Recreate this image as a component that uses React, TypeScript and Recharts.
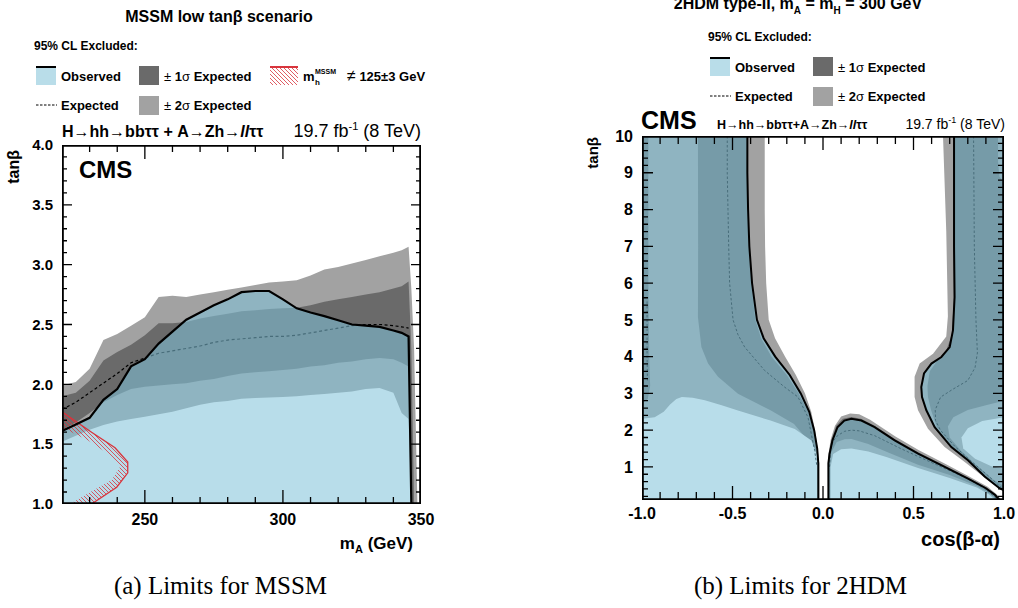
import React from 'react';
import { ComposedChart, Scatter, XAxis, YAxis } from 'recharts';

type Pt = [number, number];

const SANS = '"Liberation Sans", Arial, Helvetica, sans-serif';
const SERIF = '"Liberation Serif", "Times New Roman", serif';

const LIGHT_GRAY = '#a2a2a2';
const DARK_GRAY = '#6a6a6a';
const OBS_FILL = 'rgba(128,194,218,0.56)';
const LEGEND_BLUE = '#b9dde9';
const HATCH_RED = '#d8343c';

// (a) MSSM low tanb: contour heights read on a common mA grid (GeV)
const MA = [220, 225, 230, 235, 240, 245, 250, 255, 260, 265, 270, 275, 280, 285, 290, 295, 300, 305, 310, 315, 320, 325, 330, 335, 340, 343, 345.5, 346.5, 347.5, 348.7];
const MSSM_PLUS2 = [1.99, 2.02, 2.13, 2.37, 2.42, 2.49, 2.56, 2.73, 2.74, 2.73, 2.75, 2.77, 2.79, 2.81, 2.83, 2.85, 2.86, 2.87, 2.91, 2.96, 2.98, 3.01, 3.04, 3.07, 3.1, 3.12, 3.15, 2.8, 2.3, 1.0];
const MSSM_PLUS1 = [1.9, 1.93, 2.03, 2.2, 2.27, 2.33, 2.41, 2.51, 2.51, 2.52, 2.55, 2.57, 2.59, 2.61, 2.62, 2.63, 2.635, 2.64, 2.66, 2.69, 2.71, 2.73, 2.75, 2.77, 2.8, 2.82, 2.86, 2.3, 1.0, null];
const MSSM_EXP = [1.79, 1.85, 1.93, 2.01, 2.09, 2.18, 2.22, 2.26, 2.28, 2.3, 2.32, 2.35, 2.37, 2.38, 2.39, 2.4, 2.4, 2.41, 2.43, 2.45, 2.47, 2.49, 2.5, 2.5, 2.49, 2.48, 2.47, null, null, null];
const MSSM_MINUS1 = [1.62, 1.68, 1.76, 1.85, 1.91, 1.96, 1.98, 1.99, 2.0, 2.01, 2.03, 2.045, 2.07, 2.09, 2.1, 2.11, 2.12, 2.13, 2.15, 2.16, 2.18, 2.19, 2.21, 2.22, 2.21, 2.18, 2.15, 1.0, null, null];
const MSSM_MINUS2 = [1.52, 1.57, 1.62, 1.66, 1.69, 1.71, 1.73, 1.75, 1.77, 1.8, 1.83, 1.85, 1.86, 1.88, 1.885, 1.89, 1.895, 1.9, 1.91, 1.92, 1.93, 1.94, 1.96, 1.97, 1.93, 1.76, 1.71, 1.0, null, null];
const MSSM_OBS = [1.61, 1.665, 1.72, 1.87, 1.96, 2.15, 2.21, 2.34, 2.44, 2.54, 2.6, 2.66, 2.71, 2.77, 2.78, 2.78, 2.71, 2.635, 2.6, 2.57, 2.535, 2.5, 2.49, 2.48, 2.45, 2.43, 2.4, 1.0, null, null];
// m_h != 125 +- 3 GeV band (outer edge first)
const MSSM_MH_EDGE: Pt[] = [[220, 1.77], [230.7, 1.6], [239.2, 1.47], [243.8, 1.35], [243.8, 1.26], [239.8, 1.14], [230.7, 1.0]];
const MSSM_MH_INNER: Pt[] = [[222.9, 1.0], [229.5, 1.09], [238, 1.2], [241, 1.31], [238, 1.4], [229.5, 1.53], [220, 1.64]];

const MSSM_X_MAJOR = [250, 300, 350];
const MSSM_Y_MAJOR = [1, 1.5, 2, 2.5, 3, 3.5, 4];

// (b) 2HDM type-II: contours as (cos(b-a), tanb) points
const TH_L_OBS: Pt[] = [[-0.418, 10], [-0.418, 9], [-0.414, 8], [-0.407, 7], [-0.392, 6], [-0.365, 5], [-0.328, 4.5], [-0.264, 4], [-0.184, 3.5], [-0.123, 3], [-0.076, 2.5], [-0.049, 2], [-0.032, 1.5], [-0.026, 1.1], [-0.026, 0.1]];
const TH_L_PLUS2: Pt[] = [[-0.322, 10], [-0.322, 8], [-0.32, 7], [-0.314, 6], [-0.3, 5], [-0.265, 4.5], [-0.21, 4], [-0.15, 3.5], [-0.1, 3], [-0.065, 2.5], [-0.044, 2], [-0.03, 1.5], [-0.021, 1.1], [-0.02, 0.1]];
const TH_L_PLUS1: Pt[] = [[-0.422, 10], [-0.42, 9], [-0.417, 8], [-0.41, 7], [-0.397, 6], [-0.374, 5], [-0.342, 4.5], [-0.285, 4], [-0.2, 3.5], [-0.135, 3], [-0.083, 2.5], [-0.053, 2], [-0.036, 1.5], [-0.029, 1.1], [-0.028, 0.1]];
const TH_L_MINUS1: Pt[] = [[-0.691, 10], [-0.69, 7], [-0.691, 5.07], [-0.672, 4.26], [-0.635, 3.81], [-0.58, 3.45], [-0.47, 2.99], [-0.29, 2.54], [-0.16, 2.17], [-0.083, 1.72], [-0.046, 1.17], [-0.04, 0.1]];
const TH_L_MINUS2: Pt[] = [[-1, 2.31], [-0.93, 2.35], [-0.88, 2.5], [-0.845, 2.7], [-0.81, 2.85], [-0.78, 2.9], [-0.72, 2.88], [-0.653, 2.81], [-0.56, 2.68], [-0.47, 2.535], [-0.29, 2.26], [-0.156, 2.03], [-0.064, 1.72], [-0.03, 1.27], [-0.028, 0.1]];
const TH_L_EXP: Pt[] = [[-0.529, 10], [-0.529, 9], [-0.525, 8], [-0.521, 7], [-0.516, 6], [-0.497, 5], [-0.47, 4.6], [-0.433, 4.26], [-0.322, 3.62], [-0.212, 3.17], [-0.138, 2.9], [-0.083, 2.35], [-0.046, 1.44], [-0.035, 1.06]];
const TH_EDGE_BAND: Pt[] = [[-1, 2.75], [-1, 10], [-0.965, 10], [-0.965, 6], [-0.96, 4], [-0.955, 3.2], [-0.968, 2.85], [-0.99, 2.76]];
const TH_EDGE_EXP: Pt[] = [[-0.972, 5.5], [-0.972, 4], [-0.97, 3.3]];

const TH_M_OBS: Pt[] = [[0.03, 0.1], [0.03, 1.1], [0.036, 1.35], [0.052, 1.72], [0.08, 2.08], [0.118, 2.26], [0.157, 2.31], [0.212, 2.26], [0.285, 2.08], [0.396, 1.72], [0.525, 1.36], [0.672, 1.0], [0.801, 0.68], [0.9, 0.42], [0.95, 0.24], [0.975, 0.1]];
const TH_M_PLUS2: Pt[] = [[0.026, 0.1], [0.026, 1.1], [0.03, 1.35], [0.043, 1.75], [0.066, 2.12], [0.1, 2.37], [0.15, 2.45], [0.2, 2.43], [0.26, 2.28], [0.4, 1.83], [0.53, 1.45], [0.68, 1.07], [0.8, 0.76], [0.91, 0.46], [0.962, 0.24], [0.985, 0.1]];
const TH_M_PLUS1: Pt[] = [[0.028, 0.1], [0.028, 1.1], [0.034, 1.35], [0.048, 1.75], [0.073, 2.12], [0.11, 2.31], [0.157, 2.36], [0.21, 2.31], [0.285, 2.12], [0.396, 1.76], [0.525, 1.4], [0.672, 1.03], [0.8, 0.71], [0.902, 0.44], [0.955, 0.24], [0.98, 0.1]];
const TH_M_MINUS1: Pt[] = [[0.036, 0.1], [0.036, 1.0], [0.046, 1.4], [0.076, 1.68], [0.12, 1.75], [0.157, 1.76], [0.25, 1.62], [0.35, 1.41], [0.525, 1.06], [0.7, 0.78], [0.85, 0.48], [0.93, 0.25], [0.96, 0.1]];
const TH_M_MINUS2: Pt[] = [[0.042, 0.1], [0.042, 1.0], [0.056, 1.35], [0.1, 1.48], [0.157, 1.5], [0.25, 1.42], [0.35, 1.27], [0.525, 0.97], [0.7, 0.7], [0.85, 0.44], [0.92, 0.24], [0.95, 0.1]];
const TH_M_EXP: Pt[] = [[0.036, 1.0], [0.042, 1.45], [0.056, 1.7], [0.08, 1.85], [0.12, 1.97], [0.16, 2.0], [0.2, 1.98], [0.285, 1.85], [0.433, 1.49], [0.617, 1.08], [0.79, 0.7], [0.89, 0.42], [0.96, 0.14]];

const TH_R_OBS: Pt[] = [[0.724, 10], [0.724, 7], [0.727, 5.62], [0.718, 4.71], [0.7, 4.26], [0.654, 3.99], [0.599, 3.81], [0.558, 3.54], [0.543, 3.17], [0.547, 2.9], [0.571, 2.54], [0.617, 2.08], [0.709, 1.54], [0.801, 1.18], [0.893, 0.74], [0.975, 0.42], [1, 0.36]];
const TH_R_PLUS2: Pt[] = [[0.663, 10], [0.681, 7.4], [0.69, 5.1], [0.681, 4.55], [0.608, 4.08], [0.534, 3.81], [0.506, 3.45], [0.506, 2.9], [0.525, 2.54], [0.58, 2.04], [0.672, 1.54], [0.783, 1.13], [0.885, 0.74], [0.97, 0.42], [1, 0.35]];
const TH_R_PLUS1: Pt[] = [[0.72, 10], [0.72, 7], [0.723, 5.6], [0.712, 4.6], [0.68, 4.15], [0.63, 3.88], [0.59, 3.6], [0.577, 3.2], [0.58, 2.9], [0.597, 2.54], [0.63, 2.08], [0.715, 1.54], [0.805, 1.18], [0.895, 0.74], [0.976, 0.42], [1, 0.36]];
const TH_R_MINUS1: Pt[] = [[1, 0.48], [0.94, 0.66], [0.84, 1.08], [0.76, 1.45], [0.7, 1.8], [0.69, 2.1], [0.72, 2.35], [0.8, 2.55], [0.9, 2.68], [1, 2.8], [1, 8.7], [0.975, 8.9], [0.967, 9.3], [0.967, 10]];
const TH_R_MINUS2: Pt[] = [[1, 0.95], [0.93, 1.02], [0.84, 1.22], [0.775, 1.5], [0.765, 1.8], [0.8, 2.05], [0.88, 2.25], [1, 2.35]];
const TH_R_EXP: Pt[] = [[0.832, 10], [0.836, 7], [0.845, 5], [0.853, 4.1], [0.84, 3.7], [0.8, 3.35], [0.72, 3.12], [0.65, 2.9], [0.62, 2.55], [0.622, 2.26], [0.65, 1.99], [0.73, 1.55], [0.82, 1.15], [0.91, 0.77], [0.985, 0.44]];

const TH_X_MAJOR = [-1, -0.5, 0, 0.5, 1];
const TH_Y_MAJOR = [1, 2, 3, 4, 5, 6, 7, 8, 9, 10];

const steps = (a: number, b: number, s: number) =>
  Array.from({ length: Math.round((b - a) / s) + 1 }, (_, i) => +(a + i * s).toFixed(3));

const Blank = () => <g />;
const toXY = (pts: Pt[]) => pts.map(([x, y]) => ({ x, y }));

function filled(key: string, pts: Pt[], fill: string) {
  return (
    <Scatter key={key} data={toXY(pts)} xAxisId="b" yAxisId="l" shape={Blank} legendType="none"
      line={{ fill, stroke: 'none' }} isAnimationActive={false} zIndex={100} />
  );
}

function stroked(key: string, pts: Pt[], stroke: string, width: number, dash?: string) {
  return (
    <Scatter key={key} data={toXY(pts)} xAxisId="b" yAxisId="l" shape={Blank} legendType="none"
      line={{ fill: 'none', stroke, strokeWidth: width, strokeDasharray: dash }} isAnimationActive={false} zIndex={100} />
  );
}

function mssmCurve(vals: (number | null)[]): Pt[] {
  const pts: Pt[] = [];
  MA.forEach((m, i) => {
    const v = vals[i];
    if (v != null) pts.push([m, v]);
  });
  return pts;
}

function mssmHull(vals: (number | null)[]): Pt[] {
  const pts = mssmCurve(vals);
  return [[pts[0][0], 1], ...pts, [pts[pts.length - 1][0], 1]];
}

// frame with inward ticks on all four sides, walked as one path in data units
function tickPath(o: any): Pt[] {
  const [x0, x1] = o.xDomain;
  const [y0, y1] = o.yDomain;
  const ux = (x1 - x0) / o.plotW; // data units per pixel
  const uy = (y1 - y0) / o.plotH;
  const major = (arr: number[], v: number) => arr.some((m) => Math.abs(m - v) < 1e-6);
  const lx = (v: number) => (major(o.xMajor, v) ? o.xLong : o.xShort) * uy;
  const ly = (v: number) => (major(o.yMajor, v) ? o.yLong : o.yShort) * ux;
  const pts: Pt[] = [[x0, y0]];
  o.xTicks.forEach((v: number) => pts.push([v, y0], [v, y0 + lx(v)], [v, y0]));
  pts.push([x1, y0]);
  o.yTicks.forEach((v: number) => pts.push([x1, v], [x1 - ly(v), v], [x1, v]));
  pts.push([x1, y1]);
  [...o.xTicks].reverse().forEach((v: number) => pts.push([v, y1], [v, y1 - lx(v)], [v, y1]));
  pts.push([x0, y1]);
  [...o.yTicks].reverse().forEach((v: number) => pts.push([x0, v], [x0 + ly(v), v], [x0, v]));
  pts.push([x0, y0]);
  return pts;
}

const THIN = 0.01; // axes take (almost) no room, the margins place the frame

function frame(o: any) {
  const c = { type: 'number' as const, allowDataOverflow: true, interval: 0 as const };
  const font = { fontSize: 16, fontWeight: 700, fill: '#000', fontFamily: SANS };
  const [x0, x1] = o.xDomain;
  const [y0, y1] = o.yDomain;
  return [
    stroked('ticks', tickPath(o), '#000', 1.3),
    stroked('box', [[x0, y0], [x0, y1], [x1, y1], [x1, y0], [x0, y0]], '#000', 3.6),
    <XAxis key="xb" xAxisId="b" dataKey="x" {...c} domain={o.xDomain} ticks={o.xMajor} tickSize={-o.xLong}
      tickMargin={o.xMargin} tickFormatter={o.xFmt} tick={font} tickLine={false} axisLine={false} height={THIN} />,
    <YAxis key="yl" yAxisId="l" dataKey="y" {...c} domain={o.yDomain} ticks={o.yMajor} tickSize={-o.yLong}
      tickMargin={o.yMargin} tickFormatter={o.yFmt} tick={{ ...font, fontSize: o.yFont }} tickLine={false} axisLine={false} width={THIN} />,
  ];
}

function MssmChart() {
  return (
    <ComposedChart width={440} height={560} margin={{ top: 145, right: 19, bottom: 56, left: 62 }}>
      {filled('p2', mssmHull(MSSM_PLUS2), LIGHT_GRAY)}
      {filled('p1', mssmHull(MSSM_PLUS1), DARK_GRAY)}
      {filled('m1', mssmHull(MSSM_MINUS1), LIGHT_GRAY)}
      {filled('m2', mssmHull(MSSM_MINUS2), '#ffffff')}
      {stroked('exp', mssmCurve(MSSM_EXP), '#000', 1.2, '3 2.5')}
      {filled('obsfill', mssmHull(MSSM_OBS), OBS_FILL)}
      {filled('mh', [...MSSM_MH_EDGE, ...MSSM_MH_INNER], 'url(#hatch)')}
      {stroked('mhedge', MSSM_MH_EDGE, HATCH_RED, 1.3)}
      {stroked('obs', mssmCurve(MSSM_OBS), '#000', 2.2)}
      {frame({
        xDomain: [220, 350], yDomain: [1, 4], plotW: 359, plotH: 359,
        xMajor: MSSM_X_MAJOR, xTicks: steps(230, 340, 10), yMajor: MSSM_Y_MAJOR, yTicks: steps(1.1, 3.9, 0.1),
        xLong: 14, xShort: 7, yLong: 10, yShort: 5, xMargin: 24, yMargin: 19, yFont: 15,
        xFmt: (v: number) => String(v), yFmt: (v: number) => v.toFixed(1),
      })}
    </ComposedChart>
  );
}

function ThdmChart() {
  return (
    <ComposedChart width={458} height={560} margin={{ top: 136, right: 14, bottom: 60, left: 82 }}>
      {filled('l2', [[-1, 0.1], [-1, 10], ...TH_L_PLUS2], LIGHT_GRAY)}
      {filled('lm2', TH_M_PLUS2, LIGHT_GRAY)}
      {filled('r2', [...TH_R_PLUS2, [1, 10]], LIGHT_GRAY)}
      {filled('l1', [...TH_L_PLUS1, ...[...TH_L_MINUS1].reverse()], DARK_GRAY)}
      {filled('edge', TH_EDGE_BAND, DARK_GRAY)}
      {filled('lm1', TH_M_PLUS1, DARK_GRAY)}
      {filled('r1', [...TH_R_PLUS1, ...TH_R_MINUS1], DARK_GRAY)}
      {filled('lmm1', TH_M_MINUS1, LIGHT_GRAY)}
      {filled('lw', [[-1, 0.1], ...TH_L_MINUS2], '#ffffff')}
      {filled('mw', TH_M_MINUS2, '#ffffff')}
      {filled('rw', TH_R_MINUS2, '#ffffff')}
      {stroked('le', TH_L_EXP, '#000', 1, '2.5 2')}
      {stroked('ee', TH_EDGE_EXP, '#000', 1, '2.5 2')}
      {stroked('me', TH_M_EXP, '#000', 1, '2.5 2')}
      {stroked('re', TH_R_EXP, '#000', 1, '2.5 2')}
      {filled('lo', [[-1, 0.1], [-1, 10], ...TH_L_OBS], OBS_FILL)}
      {filled('mo', TH_M_OBS, OBS_FILL)}
      {filled('ro', [...TH_R_OBS, [1, 10]], OBS_FILL)}
      {stroked('lol', TH_L_OBS, '#000', 2)}
      {stroked('mol', TH_M_OBS, '#000', 2)}
      {stroked('rol', TH_R_OBS, '#000', 2)}
      {frame({
        xDomain: [-1, 1], yDomain: [0.1, 10], plotW: 362, plotH: 364,
        xMajor: TH_X_MAJOR, xTicks: steps(-0.9, 0.9, 0.1), yMajor: TH_Y_MAJOR, yTicks: steps(0.2, 9.8, 0.2),
        xLong: 14, xShort: 8, yLong: 11, yShort: 6, xMargin: 22, yMargin: 20, yFont: 16,
        xFmt: (v: number) => v.toFixed(1), yFmt: (v: number) => String(v),
      })}
    </ComposedChart>
  );
}

function Legend({ x, y, mh }: { x: number; y: number; mh?: boolean }) {
  const b = { fontFamily: SANS, fontWeight: 700, fontSize: 13 };
  return (
    <g>
      <rect x={x} y={y} width={20} height={19} fill={LEGEND_BLUE} />
      <line x1={x} x2={x + 20} y1={y + 1} y2={y + 1} stroke="#000" strokeWidth={2} />
      <text x={x + 25} y={y + 15} {...b}>Observed</text>
      <rect x={x + 103} y={y} width={20} height={19} fill={DARK_GRAY} />
      <text x={x + 128} y={y + 15} {...b}><tspan fontWeight={400}>± </tspan>1<tspan fontWeight={400}>σ</tspan> Expected</text>
      <line x1={x} x2={x + 21} y1={y + 39} y2={y + 39} stroke="#000" strokeWidth={1} strokeDasharray="2.5 1.5" />
      <text x={x + 25} y={y + 44} {...b}>Expected</text>
      <rect x={x + 103} y={y + 30} width={20} height={19} fill={LIGHT_GRAY} />
      <text x={x + 128} y={y + 44} {...b}><tspan fontWeight={400}>± </tspan>2<tspan fontWeight={400}>σ</tspan> Expected</text>
      {mh && (
        <g>
          <rect x={x + 234} y={y} width={28} height={19} fill="url(#hatch)" />
          <line x1={x + 234} x2={x + 262} y1={y + 1} y2={y + 1} stroke={HATCH_RED} strokeWidth={2} />
          <text x={x + 267} y={y + 15} {...b}>m</text>
          <text x={x + 279} y={y + 19} {...b} fontSize={8}>h</text>
          <text x={x + 279} y={y + 8} {...b} fontSize={7}>MSSM</text>
          <text x={x + 311} y={y + 15} {...b}><tspan fontWeight={400} fontSize={16}>≠</tspan> 125±3 GeV</text>
        </g>
      )}
    </g>
  );
}

function Texts() {
  const b = { fontFamily: SANS, fontWeight: 700 };
  const n = { fontFamily: SANS, fontWeight: 400 };
  return (
    <svg width={1018} height={608} style={{ position: 'absolute', left: 0, top: 0 }}>
      <defs>
        <pattern id="hatch" patternUnits="userSpaceOnUse" width={4} height={4}>
          <path d="M-1,-1 L5,5 M-1,3 L1,5 M3,-1 L5,1" stroke={HATCH_RED} strokeWidth={0.8} />
        </pattern>
      </defs>
      {/* left panel */}
      <text x={219} y={22} textAnchor="middle" fontSize={16} {...b}>MSSM low tanβ scenario</text>
      <text x={34} y={50} fontSize={12} {...b}>95% CL Excluded:</text>
      <Legend x={36} y={66} mh />
      <text x={62} y={137} fontSize={16} {...b}>H→hh→bbττ + A→Zh→<tspan fontStyle="italic">ll</tspan>ττ</text>
      <text x={421} y={137} textAnchor="end" fontSize={18} {...n}>19.7 fb<tspan fontSize={11} dy={-7}>-1</tspan><tspan dy={7}> (8 TeV)</tspan></text>
      <text x={79} y={178} fontSize={24} {...b}>CMS</text>
      <text transform="translate(19,150) rotate(-90)" textAnchor="end" fontSize={16} {...b}>tanβ</text>
      <text x={413} y={549} textAnchor="end" fontSize={17} {...b}>m<tspan fontSize={11} dy={4}>A</tspan><tspan dy={-4}> (GeV)</tspan></text>
      <text x={220.5} y={594} textAnchor="middle" fontSize={25} fontFamily={SERIF}>(a) Limits for MSSM</text>
      {/* right panel */}
      <text x={798} y={9} textAnchor="middle" fontSize={16} {...b}>2HDM type-II, m<tspan fontSize={10} dy={5}>A</tspan><tspan dy={-5}> = m</tspan><tspan fontSize={10} dy={5}>H</tspan><tspan dy={-5}> = 300 GeV</tspan></text>
      <text x={708} y={41} fontSize={12} {...b}>95% CL Excluded:</text>
      <Legend x={710} y={57} />
      <text x={641} y={129} fontSize={25} {...b}>CMS</text>
      <text x={717} y={129} fontSize={12.5} {...b}>H→hh→bbττ+A→Zh→<tspan fontStyle="italic">ll</tspan>ττ</text>
      <text x={1005} y={129} textAnchor="end" fontSize={14} {...n}>19.7 fb<tspan fontSize={9} dy={-6}>-1</tspan><tspan dy={6}> (8 TeV)</tspan></text>
      <text transform="translate(598,137) rotate(-90)" textAnchor="end" fontSize={15} {...b}>tanβ</text>
      <text x={1000} y={546} textAnchor="end" fontSize={20} {...b}>cos(β-α)</text>
      <text x={800.5} y={594} textAnchor="middle" fontSize={25} fontFamily={SERIF}>(b) Limits for 2HDM</text>
    </svg>
  );
}

export default function App() {
  return (
    <div style={{ position: 'absolute', left: 0, top: 0, width: 1018, height: 608 }}>
      <Texts />
      <div style={{ position: 'absolute', left: 0, top: 0 }}>
        <MssmChart />
      </div>
      <div style={{ position: 'absolute', left: 560, top: 0 }}>
        <ThdmChart />
      </div>
    </div>
  );
}
